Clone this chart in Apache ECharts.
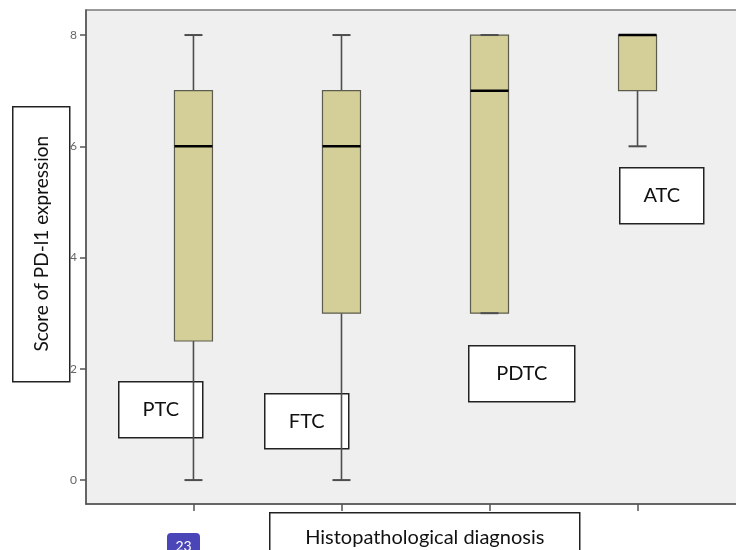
<!DOCTYPE html>
<html>
<head>
<meta charset="utf-8">
<script src="https://cdn.jsdelivr.net/npm/echarts@6/dist/echarts.min.js"></script>
<style>
html,body{margin:0;padding:0;background:#fff;}
#chart{width:736px;height:550px;}
</style>
</head>
<body>
<div id="chart"></div>
<script>
// ---- data ----
const categories = ['PTC', 'FTC', 'PDTC', 'ATC'];
const minValues    = [0, 0, 3, 6];
const q1Values     = [2.5, 3, 3, 7];
const medianValues = [6, 6, 7, 8];
const q3Values     = [7, 7, 8, 8];
const maxValues    = [8, 8, 8, 8];
const yTickValues  = [0, 2, 4, 6, 8];
const yTitle = 'Score of PD-l1 expression';
const xTitle = 'Histopathological diagnosis';

const boxData = categories.map((c, i) => [i, minValues[i], q1Values[i], medianValues[i], q3Values[i], maxValues[i]]);

const FONT = 'Lato, "Open Sans", sans-serif';
const BOX_W = 38, CAP_W = 18;
const lineCol = '#4d4d4d';

function renderBox(params, api) {
  const x = api.value(0);
  const pMin = api.coord([x, api.value(1)]);
  const pQ1 = api.coord([x, api.value(2)]);
  const pMed = api.coord([x, api.value(3)]);
  const pQ3 = api.coord([x, api.value(4)]);
  const pMax = api.coord([x, api.value(5)]);
  const cx = pMin[0];
  const children = [];
  const ls = {stroke: lineCol, lineWidth: 1.6};
  if (pMax[1] < pQ3[1]) children.push({type: 'line', shape: {x1: cx, y1: pMax[1], x2: cx, y2: pQ3[1]}, style: ls});
  if (pMin[1] > pQ1[1]) children.push({type: 'line', shape: {x1: cx, y1: pQ1[1], x2: cx, y2: pMin[1]}, style: ls});
  children.push({type: 'rect', shape: {x: cx - BOX_W / 2, y: pQ3[1], width: BOX_W, height: pQ1[1] - pQ3[1]},
    style: {fill: '#d4cf99', stroke: '#5c5c4e', lineWidth: 1.2}});
  children.push({type: 'line', shape: {x1: cx - CAP_W / 2, y1: pMax[1], x2: cx + CAP_W / 2, y2: pMax[1]}, style: {stroke: lineCol, lineWidth: 2}});
  children.push({type: 'line', shape: {x1: cx - CAP_W / 2, y1: pMin[1], x2: cx + CAP_W / 2, y2: pMin[1]}, style: {stroke: lineCol, lineWidth: 2}});
  children.push({type: 'line', shape: {x1: cx - BOX_W / 2, y1: pMed[1], x2: cx + BOX_W / 2, y2: pMed[1]}, style: {stroke: '#000', lineWidth: 2.5}});
  return {type: 'group', children: children};
}

function labelBox(text, x, y, w, h, fs) {
  return {
    type: 'group', left: x, top: y, z: 100,
    children: [
      {type: 'rect', shape: {x: 0, y: 0, width: w, height: h}, style: {fill: '#fff', stroke: '#222', lineWidth: 1.5}},
      {type: 'text', x: w / 2, y: h / 2, style: {text: text, fill: '#111', font: fs + 'px ' + FONT, textAlign: 'center', textVerticalAlign: 'middle'}}
    ]
  };
}

const chart = echarts.init(document.getElementById('chart'), null, {renderer: 'canvas'});
chart.setOption({
  animation: false,
  backgroundColor: '#fff',
  grid: {left: 86, top: 10, width: 659, height: 494, show: true, backgroundColor: '#efefef', borderColor: '#7a7a7a', borderWidth: 1.5, containLabel: false, outerBoundsMode: 'none'},
  xAxis: {
    type: 'value', min: -0.726, max: 3.726,
    splitLine: {show: false},
    axisLine: {show: true, onZero: false, lineStyle: {color: '#555', width: 1.5}},
    axisTick: {show: true, customValues: [0, 1, 2, 3], length: 7, lineStyle: {color: '#555', width: 1.5}},
    axisLabel: {show: false}
  },
  yAxis: {
    type: 'value', min: -0.43, max: 8.45,
    splitLine: {show: false},
    axisLine: {show: true, onZero: false, lineStyle: {color: '#555', width: 1.5}},
    axisTick: {show: true, customValues: yTickValues, length: 6, lineStyle: {color: '#555', width: 1.5}},
    axisLabel: {show: true, customValues: yTickValues, color: '#666', fontSize: 12, fontFamily: FONT, margin: 9}
  },
  series: [{
    type: 'custom',
    renderItem: renderBox,
    data: boxData,
    encode: {x: 0, y: [1, 2, 3, 4, 5]},
    clip: false
  }],
  graphic: [
    labelBox(categories[0], 118, 381, 84, 56, 20),
    labelBox(categories[1], 264, 393, 84, 55, 20),
    labelBox(categories[2], 468, 345, 106, 56, 20),
    labelBox(categories[3], 619, 167, 84, 56, 20),
    {
      type: 'group', left: 12, top: 106, z: 100,
      children: [
        {type: 'rect', shape: {x: 0, y: 0, width: 57, height: 275}, style: {fill: '#fff', stroke: '#222', lineWidth: 1.5}},
        {type: 'text', x: 29, y: 137, rotation: Math.PI / 2, style: {text: yTitle, fill: '#111', font: '19px ' + FONT, textAlign: 'center', textVerticalAlign: 'middle'}}
      ]
    },
    {
      type: 'group', left: 269, top: 512, z: 100,
      children: [
        {type: 'rect', shape: {x: 0, y: 0, width: 310, height: 60}, style: {fill: '#fff', stroke: '#222', lineWidth: 1.5}},
        {type: 'text', x: 155, y: 25, style: {text: xTitle, fill: '#111', font: '20px ' + FONT, textAlign: 'center', textVerticalAlign: 'middle'}}
      ]
    },
    {
      type: 'group', left: 167, top: 533, z: 100,
      children: [
        {type: 'rect', shape: {x: 0, y: 0, width: 33, height: 25, r: 4}, style: {fill: '#4a46b8'}},
        {type: 'text', x: 16.5, y: 13, style: {text: '23', fill: '#fff', font: '14px ' + FONT, textAlign: 'center', textVerticalAlign: 'middle'}}
      ]
    }
  ]
});
</script>
</body>
</html>
